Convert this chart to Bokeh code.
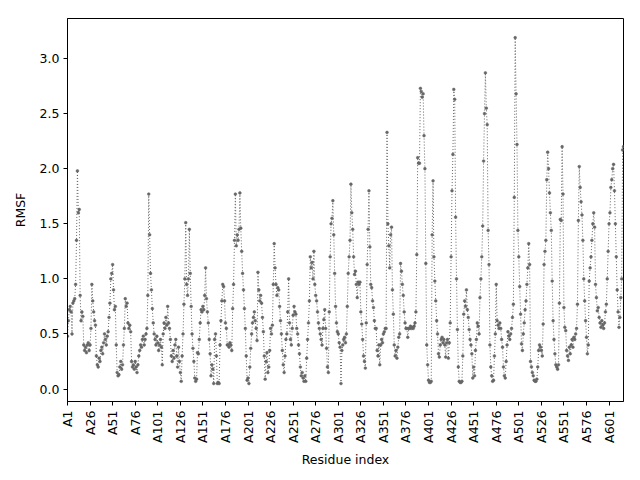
import math
from bokeh.plotting import figure
from bokeh.models import FixedTicker, Range1d, NumeralTickFormatter, ColumnDataSource
from bokeh.embed import file_html
from bokeh.resources import INLINE

rmsf = [
    0.48, 0.62, 0.72, 0.75, 0.70, 0.50, 0.78, 0.80, 0.82, 0.95,
    1.35, 1.98, 1.60, 1.63, 0.85, 0.62, 0.70, 0.66, 0.40, 0.35,
    0.38, 0.33, 0.40, 0.42, 0.35, 0.40, 0.55, 0.95, 0.80, 0.70,
    0.62, 0.58, 0.30, 0.22, 0.20, 0.28, 0.25, 0.35, 0.38, 0.32,
    0.42, 0.50, 0.45, 0.40, 0.48, 0.52, 0.65, 0.78, 1.00, 1.05,
    1.13, 0.90, 0.72, 0.75, 0.40, 0.15, 0.12, 0.13, 0.20, 0.25,
    0.18, 0.22, 0.40, 0.55, 0.82, 0.75, 0.78, 0.60, 0.55, 0.58,
    0.52, 0.25, 0.20, 0.22, 0.18, 0.25, 0.20, 0.15, 0.22, 0.30,
    0.35, 0.40, 0.38, 0.45, 0.48, 0.40, 0.45, 0.50, 0.55, 0.85,
    1.77, 1.40, 1.05, 0.90, 0.73, 0.60, 0.50, 0.45, 0.40, 0.48,
    0.42, 0.35, 0.40, 0.45, 0.38, 0.22, 0.50, 0.60, 0.55, 0.65,
    0.58, 0.75, 0.60, 0.55, 0.45, 0.30, 0.25, 0.35, 0.28, 0.40,
    0.45, 0.30, 0.20, 0.38, 0.25, 0.15, 0.07, 0.30, 0.50, 0.77,
    1.00, 1.51, 0.95, 0.85, 1.00, 1.45, 1.05, 0.75, 0.50, 0.37,
    0.25, 0.10, 0.07, 0.09, 0.33, 0.32, 0.45, 0.60, 0.72, 0.70,
    0.75, 0.72, 0.85, 1.10, 0.82, 0.70, 0.60, 0.45, 0.32,
    0.12, 0.22, 0.18, 0.05, 0.45, 0.50, 0.30, 0.05, 0.06, 0.05,
    0.40, 0.62, 0.80, 0.95, 0.93, 0.80, 0.60, 0.55, 0.40, 0.40,
    0.38, 0.42, 0.40, 0.35, 0.73, 0.95, 1.35, 1.77, 1.30, 1.40,
    1.35, 1.45, 1.78, 1.46, 1.25, 1.05, 0.90, 0.73, 0.55, 0.30,
    0.08, 0.10, 0.05, 0.20, 0.37, 0.50, 0.60, 0.65, 0.70, 0.62,
    0.55, 0.44, 1.06, 0.90, 0.80, 0.85, 0.78, 0.65, 0.52, 0.30,
    0.09, 0.25, 0.33, 0.15, 0.20, 0.35, 0.55, 0.50, 0.58, 0.95,
    1.32, 1.10, 0.95, 0.85, 0.92, 0.90, 0.75, 0.62, 0.50, 0.35,
    0.22, 0.15, 0.30, 0.45, 0.50, 0.70, 1.00, 0.60, 0.45, 0.40,
    0.55, 0.67, 0.75, 0.70, 0.68, 0.55, 0.50, 0.40, 0.32, 0.20,
    0.12, 0.15, 0.10, 0.07, 0.12, 0.07, 0.28, 0.45, 0.60, 0.80,
    1.20, 1.10, 1.15, 1.00, 1.25, 0.95, 0.85, 0.80, 0.70, 0.60,
    0.55, 0.50, 0.45, 0.40, 0.55, 0.63, 0.72, 0.55, 0.37, 0.20,
    0.15, 0.70, 1.20, 1.50, 1.55, 1.71, 1.40, 1.05, 0.75, 0.60,
    0.52, 0.50, 0.42, 0.38, 0.05, 0.35, 0.40, 0.45, 0.47, 0.42,
    0.50, 0.75, 1.05, 1.20, 1.35, 1.86, 1.60, 1.45, 1.20, 1.04,
    1.07, 0.95, 0.83, 0.97, 0.95, 0.97, 0.70, 0.59, 0.45,
    0.30, 0.25, 0.19, 0.60, 1.13, 1.45, 1.80, 1.29, 0.95, 0.92,
    0.80, 0.74, 0.62, 0.55, 0.55, 0.35, 0.30, 0.40, 0.22, 0.40,
    0.45, 0.42, 0.50, 0.52, 0.55, 0.55, 2.33, 1.50, 1.30, 1.10,
    1.40, 1.47, 0.90, 0.68, 0.40, 0.30, 0.35, 0.28, 0.38, 0.47,
    0.50, 1.14, 1.07, 0.95, 0.85, 0.70, 0.60, 0.55, 0.55, 0.47,
    0.55, 0.55, 0.57, 0.55, 0.56, 0.55, 0.57, 0.60, 0.70, 1.22,
    2.10, 2.05, 2.05, 2.73, 2.70, 2.65, 2.68, 2.30, 2.00, 1.14,
    0.40, 0.22, 0.08, 0.06, 0.06, 0.07, 1.40, 1.89, 1.20, 0.98,
    0.80, 0.62, 0.50, 0.32, 0.29, 0.40, 0.45, 0.47, 0.42, 0.45,
    0.40, 0.29, 0.42, 0.45, 0.28, 0.42, 0.60, 1.20, 1.80, 2.13,
    2.72, 2.63, 1.56, 1.00, 0.54, 0.20, 0.07, 0.06, 0.06, 0.07,
    0.30, 0.68, 0.80, 0.75, 0.90, 0.72, 0.65, 0.54, 0.45, 0.40,
    0.32, 0.10, 0.20, 0.12, 0.35, 0.45, 0.60, 0.57, 0.50, 0.83,
    1.00, 1.20, 1.48, 2.07, 2.50, 2.87, 2.55, 2.40, 1.44, 1.13,
    0.40, 0.20, 0.12, 0.07, 0.08, 0.30, 0.50, 0.95, 0.62, 0.58,
    0.55, 0.60, 0.55, 0.45, 0.38, 0.20, 0.12, 0.10, 0.25,
    0.40, 0.52, 0.48, 0.45, 0.50, 0.55, 0.65, 0.77, 1.74, 3.19,
    2.68, 2.22, 1.44, 1.20, 0.93, 0.68, 0.41, 0.35, 0.50, 0.60,
    0.72, 0.80, 0.95, 1.10, 1.32, 1.13, 0.25, 0.20, 0.15, 0.12,
    0.08, 0.07, 0.07, 0.09, 0.20, 0.35, 0.40, 0.38, 0.35, 0.30,
    0.59, 1.13, 1.25, 1.35, 1.90, 2.15, 2.00, 1.78, 1.60, 1.44,
    0.98, 0.62, 0.45, 0.32, 0.22, 0.20, 0.18, 0.22, 0.78, 1.54,
    1.53, 2.20, 1.77, 0.74, 0.56, 0.53, 0.35, 0.30, 0.26, 0.38,
    0.32, 0.40, 0.45, 0.38, 0.47, 0.45, 0.50, 0.55, 0.77, 1.53,
    2.02, 1.83, 1.70, 1.58, 1.35, 1.00, 0.80, 0.62, 0.47, 0.32,
    0.40, 0.98, 1.10, 1.20, 1.35, 1.50, 1.60, 1.47, 0.95, 0.83,
    0.71, 0.74, 0.65, 0.60, 0.56, 0.62, 0.58, 0.55, 0.60, 0.70,
    0.77, 1.00, 1.25, 1.50, 1.60, 1.83, 1.90, 2.00, 2.04, 1.80,
    1.50, 1.20, 0.90, 0.70, 0.56, 0.65, 0.83, 1.00, 2.17, 2.20,
]

tick_positions = [0, 25, 50, 75, 100, 125, 150, 175, 200, 225, 250, 275, 300,
                  325, 350, 375, 400, 425, 450, 475, 500, 525, 550, 575, 600]
tick_labels = ["A1", "A26", "A51", "A76", "A101", "A126", "A151", "A176", "A201",
               "A226", "A251", "A276", "A301", "A326", "A351", "A376", "A401",
               "A426", "A451", "A476", "A501", "A526", "A551", "A576", "A601"]
y_ticks = [0.0, 0.5, 1.0, 1.5, 2.0, 2.5, 3.0]

N = len(rmsf)
src = ColumnDataSource(data=dict(x=list(range(N)), y=rmsf))

FONT = "DejaVu Sans"
FS = "12.5px"
COL = "#666666"

p = figure(width=640, height=480, output_backend="svg", toolbar_location=None,
           x_range=Range1d(0, N - 1), y_range=Range1d(-0.113, 3.364),
           min_border_left=67, min_border_right=17, min_border_top=18,
           min_border_bottom=79, background_fill_color="white",
           border_fill_color="white")
p.outline_line_color = "black"
p.outline_line_width = 1
p.xgrid.visible = False
p.ygrid.visible = False

p.line("x", "y", source=src, line_color=COL, line_width=1, line_dash="1 2")
p.scatter("x", "y", source=src, size=2.8, fill_color=COL, line_color=COL,
          line_width=0.5)

xa = p.xaxis[0]
xa.ticker = FixedTicker(ticks=tick_positions)
xa.major_label_overrides = {t: l for t, l in zip(tick_positions, tick_labels)}
xa.major_label_orientation = math.pi / 2
xa.axis_label = "Residue index"

ya = p.yaxis[0]
ya.ticker = FixedTicker(ticks=y_ticks)
ya.formatter = NumeralTickFormatter(format="0.0")
ya.axis_label = "RMSF"

for ax in (xa, ya):
    ax.axis_line_color = "black"
    ax.major_tick_line_color = "black"
    ax.major_tick_out = 4
    ax.major_tick_in = 0
    ax.minor_tick_line_color = None
    ax.major_label_text_font = FONT
    ax.major_label_text_font_size = FS
    ax.major_label_text_color = "black"
    ax.axis_label_text_font = FONT
    ax.axis_label_text_font_size = FS
    ax.axis_label_text_font_style = "normal"
    ax.axis_label_text_color = "black"

xa.major_label_standoff = 5
xa.axis_label_standoff = 6
ya.major_label_standoff = 4
ya.axis_label_standoff = 9

open("out.html", "w").write(file_html(p, INLINE))
